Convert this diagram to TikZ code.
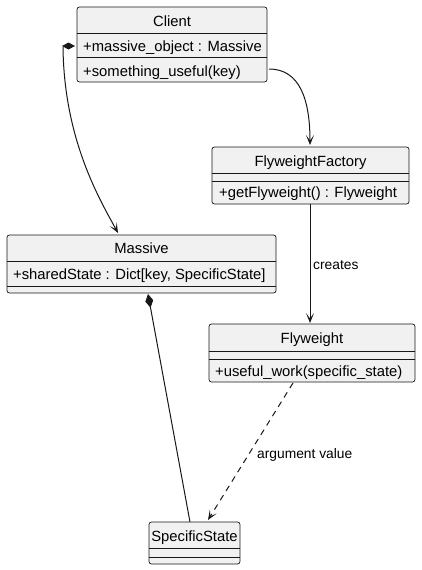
\documentclass[tikz,border=0pt]{standalone}
\usepackage{fontspec}
\setmainfont{Liberation Sans}
\usetikzlibrary{arrows.meta,calc}
\definecolor{boxfill}{HTML}{F1F1F1}
\definecolor{boxline}{HTML}{181818}
\begin{document}
\begin{tikzpicture}[x=1pt,y=-1pt,
  classbox/.style={draw=boxline,fill=boxfill,rounded corners=2.5pt,line width=0.7pt,inner sep=0pt,outer sep=0pt},
  divider/.style={draw=boxline,line width=0.7pt},
  ctitle/.style={anchor=base,inner sep=0pt,font=\fontsize{14.8}{17}\selectfont},
  cmember/.style={anchor=base west,inner sep=0pt,font=\fontsize{14.8}{17}\selectfont},
  elabel/.style={anchor=base west,inner sep=0pt,font=\fontsize{13.8}{16}\selectfont},
  conn/.style={draw=boxline,line width=1pt},
  arr/.style={-{Stealth[length=10pt,width=8pt,inset=5.5pt]}},
  comp/.style={{Diamond[length=14pt,width=8pt]}-}
]
\useasboundingbox (0,0) rectangle (421,570);
% boxes
\node[classbox,minimum width=190pt,minimum height=75pt] (client) at (172,44.5) {};
\node[classbox,minimum width=197pt,minimum height=57pt] (factory) at (310.5,175.5) {};
\node[classbox,minimum width=269pt,minimum height=58pt] (massive) at (141.5,264) {};
\node[classbox,minimum width=206pt,minimum height=58pt] (flyweight) at (312,353) {};
\node[classbox,minimum width=91pt,minimum height=42pt] (specific) at (194.5,543) {};
% dividers
\draw[divider] (client.west |- 0,33) -- (client.east |- 0,33);
\draw[divider] (client.west |- 0,57) -- (client.east |- 0,57);
\draw[divider] (factory.west |- 0,173) -- (factory.east |- 0,173);
\draw[divider] (factory.west |- 0,181) -- (factory.east |- 0,181);
\draw[divider] (massive.west |- 0,261) -- (massive.east |- 0,261);
\draw[divider] (massive.west |- 0,286) -- (massive.east |- 0,286);
\draw[divider] (flyweight.west |- 0,351) -- (flyweight.east |- 0,351);
\draw[divider] (flyweight.west |- 0,359) -- (flyweight.east |- 0,359);
\draw[divider] (specific.west |- 0,548) -- (specific.east |- 0,548);
\draw[divider] (specific.west |- 0,557) -- (specific.east |- 0,557);
% texts
\node[ctitle] (clientT) at (172,26) {Client};
\node[cmember] (clientF) at (83,51) {+massive\_object : Massive};
\node[cmember] (clientM) at (83,76) {+something\_useful(key)};
\node[ctitle] (factoryT) at (310.5,166) {FlyweightFactory};
\node[cmember] (factoryM) at (219,197) {+getFlyweight() : Flyweight};
\node[ctitle] (massiveT) at (141.5,253) {Massive};
\node[cmember] (massiveF) at (13,279) {+sharedState : Dict[key, SpecificState]};
\node[ctitle] (flyT) at (312,343) {Flyweight};
\node[cmember] (flyM) at (215,376) {+useful\_work(specific\_state)};
\node[ctitle] (specT) at (194.5,541) {SpecificState};
% connectors
\fill[boxline] ($(client.west)+(-2,1.5)$) -- ++(-6.5,-3.5) -- ++(-6.5,3.5) -- ++(6.5,3.5) -- cycle;
\draw[conn,arr] ($(client.west)+(-14,2.5)$) .. controls +(1,93) and ($(massive.north)+(-41.5,-35)$) .. ($(massive.north)+(-23.5,-2)$);
\draw[conn,arr] ($(client.east)+(2,24.5)$) .. controls +(31,0) and ($(factory.north)+(-0.5,-47)$) .. ($(factory.north)+(-0.5,-2)$);
\coordinate (fsrc) at ($(factory.south)+(-0.5,0)$);
\coordinate (fdst) at ($(flyweight.north)+(-2,-1)$);
\draw[conn,arr] (fsrc) -- (fsrc |- fdst);
\node[elabel] (createsL) at (313,269) {creates};
\draw[conn,comp] ($(massive.south)+(6.5,1)$) -- ($(specific.north)+(-4.5,0)$);
\draw[conn,arr,dash pattern=on 6pt off 5pt] ($(flyweight.south)+(-19,1)$) -- ($(specific.north)+(13.5,-2)$);
\node[elabel] (argL) at (257,458) {argument value};
\end{tikzpicture}
\end{document}
